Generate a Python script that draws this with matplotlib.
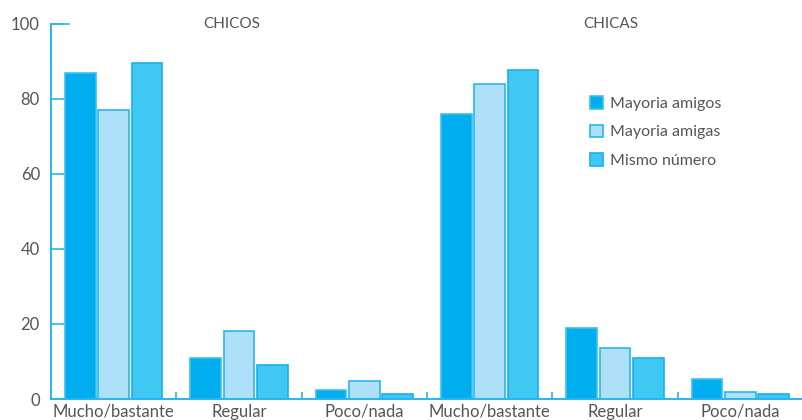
import numpy as np
import matplotlib
matplotlib.use('Agg')
from matplotlib import pyplot as plt

# porcentajes por grupo: chicos (3 categorías) y chicas (3 categorías)
categorias = ['Mucho/bastante', 'Regular', 'Poco/nada',
              'Mucho/bastante', 'Regular', 'Poco/nada']
mayoria_amigos = [87, 11, 2.4, 76, 19, 5.2]
mayoria_amigas = [77, 18, 4.9, 84, 13.6, 1.9]
mismo_numero = [89.7, 9, 1.2, 87.7, 11, 1.3]
series = ['Mayoria amigos', 'Mayoria amigas', 'Mismo número']

plt.rcParams['font.family'] = ['Lato', 'DejaVu Sans']
gris = '#555555'
azul_eje = '#29b6ec'

fig = plt.figure(figsize=(8.03, 4.2), dpi=100)
ax = fig.add_axes([0.0635, 0.05, 0.9365, 0.893])

x = np.arange(len(categorias))
w = 0.245
off = 0.265
ax.bar(x - off, mayoria_amigos, w, color='#00aeef', edgecolor='#3cc0f0', linewidth=1.2, label=series[0])
ax.bar(x, mayoria_amigas, w, color='#aee0fa', edgecolor='#29b6ec', linewidth=1.2, label=series[1])
ax.bar(x + off, mismo_numero, w, color='#40c8f4', edgecolor='#1ab0ec', linewidth=1.2, label=series[2])

ax.set_xlim(-0.5, 5.5)
ax.set_ylim(0, 100)

for s in ['top', 'right']:
    ax.spines[s].set_visible(False)
for s in ['left', 'bottom']:
    ax.spines[s].set_color(azul_eje)
    ax.spines[s].set_linewidth(1.4)

ax.set_yticks([0, 20, 40, 60, 80, 100])
ax.tick_params(axis='y', direction='in', length=9.5, width=1.2, color=azul_eje,
               labelsize=12, labelcolor=gris, pad=8)
ax.set_xticks(x)
ax.set_xticklabels(categorias)
ax.tick_params(axis='x', which='major', length=0, labelsize=12, labelcolor=gris, pad=3.5)
ax.set_xticks(np.arange(0.5, 5.5, 1), minor=True)
ax.tick_params(axis='x', which='minor', direction='in', length=5, width=1.2, color=azul_eje)

# marca superior más larga en el 100
ax.plot([-0.5, -0.355], [100, 100], color=azul_eje, lw=1.2, clip_on=False)

ax.text(0.94, 100, 'CHICOS', ha='center', va='center', fontsize=11, color=gris)
ax.text(3.97, 100, 'CHICAS', ha='center', va='center', fontsize=11, color=gris)

leg = ax.legend(loc='upper left', bbox_to_anchor=(0.697, 0.846), frameon=False,
                fontsize=11.5, handlelength=0.85, handleheight=0.85, handletextpad=0.45,
                labelspacing=0.85)
for t in leg.get_texts():
    t.set_color(gris)

fig.savefig('out.png', dpi=100)
